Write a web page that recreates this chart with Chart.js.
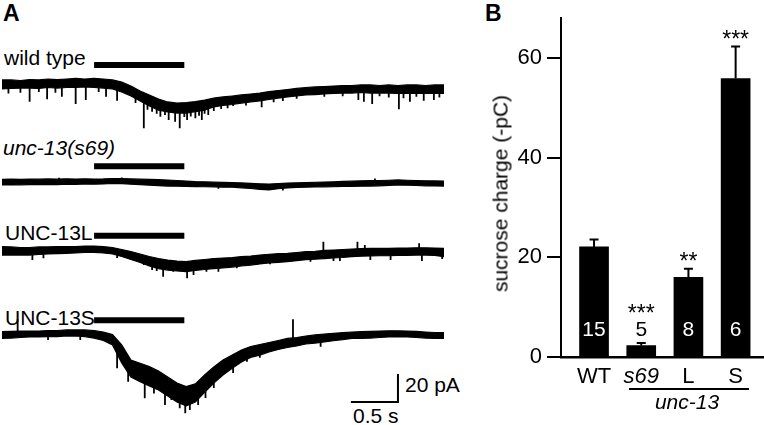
<!DOCTYPE html>
<html>
<head>
<meta charset="utf-8">
<script src="https://cdn.jsdelivr.net/npm/chart.js@4.4.1/dist/chart.umd.min.js"></script>
<style>
  body { margin: 0; background: #fff; }
  #fig { position: relative; width: 764px; height: 425px; overflow: hidden;
         font-family: 'Liberation Sans', Arial, sans-serif; color: #000; }
  #fig canvas { position: absolute; }
  .lbl { position: absolute; font-size: 21px; line-height: 21px; white-space: nowrap; }
  .panel { position: absolute; font-size: 23px; line-height: 23px; font-weight: bold; }
  .it { font-style: italic; }
</style>
</head>
<body>
<div id="fig">
  <div class="panel" style="left:3px;top:2px">A</div>
  <div class="panel" style="left:485px;top:2px">B</div>

  <div class="lbl" style="left:4px;top:47px">wild type</div>
  <div class="lbl it" style="left:3px;top:137px">unc-13(s69)</div>
  <div class="lbl" style="left:5px;top:222px">UNC-13L</div>
  <div class="lbl" style="left:5px;top:307px">UNC-13S</div>
  <div class="lbl" style="left:405px;top:374px">20 pA</div>
  <div class="lbl" style="left:353px;top:405px">0.5 s</div>

  <canvas id="trWT" width="442" height="120" style="left:2px;top:49px"></canvas>
  <canvas id="trS69" width="442" height="120" style="left:2px;top:147px"></canvas>
  <canvas id="trL" width="442" height="120" style="left:2px;top:216px"></canvas>
  <canvas id="trS" width="442" height="120" style="left:2px;top:299px"></canvas>

  <canvas id="bars" width="284" height="425" style="left:480px;top:0px"></canvas>
  <div class="lbl" style="left:390px;top:183px;width:220px;text-align:center;transform:rotate(-90deg)">sucrose charge (-pC)</div>
  <div style="position:absolute;left:629px;top:388px;width:120px;height:2px;background:#000"></div>
  <div class="lbl it" style="left:627px;top:391px;width:120px;text-align:center">unc-13</div>
</div>

<script>
// ---- panel A: sucrose-evoked currents (pA), sampled every 0.1 s ----
const times = [0, 0.1, 0.2, 0.3, 0.4, 0.5, 0.6, 0.7, 0.8, 0.9,
               1.0, 1.1, 1.2, 1.3, 1.4, 1.5, 1.6, 1.7, 1.8, 1.9,
               2.0, 2.1, 2.2, 2.3, 2.4, 2.5, 2.6, 2.7, 2.8, 2.9,
               3.0, 3.1, 3.2, 3.3, 3.4, 3.5, 3.6, 3.7, 3.8, 3.9,
               4.0, 4.1, 4.2, 4.3, 4.4, 4.5, 4.6, 4.7, 4.8];

// upper / lower edge of the noisy trace
const wtHi = [3.0, 3.0, 2.6, 3.3, 3.0, 3.7, 3.3, 3.7, 4.1, 3.7,
              4.1, 3.7, 3.0, 1.5, -1.5, -5.2, -8.1, -11.1, -13.3, -14.1,
              -13.7, -13.0, -11.9, -10.4, -9.6, -8.9, -8.1, -7.4, -6.7, -5.6,
              -4.8, -4.1, -3.3, -2.6, -2.2, -1.9, -1.5, -1.1, -1.1, -0.7,
              -0.7, -1.1, -0.7, -1.1, -0.7, -0.7, -1.1, -0.7, -0.7];
const wtLo = [-3.7, -3.3, -3.0, -3.0, -3.3, -2.6, -3.0, -2.6, -2.6, -2.2,
              -2.6, -3.0, -3.7, -5.9, -8.9, -12.6, -16.3, -19.3, -20.7, -21.5,
              -21.5, -20.4, -19.3, -17.0, -15.9, -15.2, -14.1, -13.3, -12.6, -11.5,
              -10.4, -9.6, -8.9, -8.1, -7.8, -7.4, -7.0, -6.7, -6.7, -6.3,
              -6.7, -6.7, -6.7, -7.0, -6.7, -7.0, -7.0, -6.7, -7.0];

const s69Hi = [2.0, 2.1, 2.0, 2.2, 2.1, 2.3, 2.2, 2.4, 2.2, 2.4,
               2.2, 2.3, 2.6, 2.6, 2.3, 2.1, 1.9, 1.7, 1.5, 1.1,
               0.7, 0.3, 0.1, -0.1, -0.3, -0.5, -0.7, -1.0, -1.3, -1.5,
               -1.1, -0.8, -0.6, -0.4, -0.2, 0.0, 0.2, 0.4, 0.6, 0.9,
               1.0, 1.1, 1.3, 1.5, 1.3, 1.1, 0.9, 0.8, 0.7];
const s69Lo = [-2.2, -2.0, -2.1, -1.9, -2.0, -1.8, -1.9, -1.6, -1.8, -1.5,
               -1.6, -1.4, -1.1, -1.2, -1.6, -2.0, -2.4, -2.7, -3.0, -3.1,
               -3.3, -3.4, -3.5, -3.6, -3.8, -3.9, -4.3, -4.8, -5.4, -5.9,
               -5.0, -4.4, -4.0, -3.8, -3.7, -3.6, -3.5, -3.3, -3.2, -3.1,
               -3.0, -2.8, -2.5, -2.2, -2.4, -2.6, -2.8, -2.9, -3.0];

const lHi = [3.2, 3.0, 2.6, 2.6, 3.0, 3.0, 3.3, 3.2, 3.3, 3.7,
             3.7, 3.3, 2.6, 1.1, -0.4, -2.2, -4.1, -5.6, -6.7, -7.4,
             -7.9, -7.0, -6.3, -5.6, -5.2, -4.8, -4.1, -3.7, -3.0, -2.4,
             -2.0, -1.7, -1.1, -0.5, -0.2, 0.4, 0.7, 1.1, 1.5, 1.7,
             1.9, 2.0, 2.0, 2.2, 2.2, 2.4, 2.4, 2.2, 2.0];
const lLo = [-3.0, -3.0, -3.0, -3.0, -2.6, -2.2, -1.9, -1.7, -1.5, -1.1,
             -1.0, -1.5, -2.2, -4.1, -6.3, -8.5, -11.1, -13.0, -14.1, -14.8,
             -15.3, -14.4, -13.7, -13.0, -12.6, -11.9, -11.1, -10.4, -9.6, -8.9,
             -8.4, -7.9, -7.2, -6.4, -6.1, -5.6, -5.2, -4.8, -4.2, -3.9,
             -3.7, -3.5, -3.5, -3.3, -3.2, -3.0, -3.0, -3.3, -4.2];

const sHi = [1.7, 1.9, 2.2, 2.2, 2.2, 2.6, 2.6, 3.0, 3.0, 3.0,
             2.6, 1.5, -0.4, -8.1, -19.3, -21.7, -24.1, -27.4, -31.9, -36.3,
             -38.9, -37.0, -30.4, -24.4, -19.3, -15.6, -11.9, -9.4, -7.8, -6.3,
             -4.8, -3.3, -2.6, -1.5, -0.7, 0.0, 0.5, 1.0, 1.5, 1.7,
             1.9, 2.2, 2.4, 2.4, 2.2, 1.9, 1.5, 1.1, 1.0];
const sLo = [-3.2, -3.0, -2.6, -2.2, -2.2, -1.9, -1.9, -1.5, -1.5, -1.9,
             -3.0, -4.8, -8.1, -21.5, -31.9, -35.3, -38.5, -41.5, -45.9, -50.4,
             -53.3, -50.4, -43.3, -36.3, -30.4, -25.4, -20.7, -17.3, -15.6, -13.3,
             -11.5, -10.0, -8.9, -7.4, -6.7, -5.9, -5.0, -4.1, -3.3, -3.2,
             -3.0, -2.6, -2.2, -2.0, -2.2, -2.6, -3.0, -3.2, -3.2];

// single events: [time s, start pA, tip pA]
const wtSpikes = [[0.07, -3, -7], [0.20, -3, -6.5], [0.30, -2.5, -13.1], [0.40, -3, -6],
  [0.49, -2.2, -11.3], [0.58, -2.5, -6.5], [0.65, -2.4, -9.4], [0.80, -2.2, -14.8],
  [0.91, -2.0, -11.9], [1.05, -2.5, -6], [1.13, -2.5, -9.4], [1.25, -3.5, -12.4],
  [1.45, -9, -14], [1.54, -13, -32.8], [1.58, -14, -19], [1.63, -15, -20.5],
  [1.68, -17, -22], [1.72, -18, -24.2], [1.77, -19, -23], [1.81, -19, -26.7],
  [1.88, -20, -27.9], [1.93, -20, -32.8], [1.98, -21, -24.5], [2.01, -20, -26.7],
  [2.05, -20, -24], [2.10, -19, -25.4], [2.14, -19.5, -23.5], [2.17, -18, -26.7],
  [2.20, -18.5, -22], [2.24, -17, -23.0], [2.30, -16, -20], [2.38, -15, -18.5],
  [2.45, -14.5, -18], [2.51, -14, -16.3], [2.65, -13, -16], [2.82, -12, -17.3],
  [2.95, -11, -13.5], [3.05, -10, -12.5], [3.20, -8.5, -11], [3.50, -7, -9.5],
  [3.70, -6.5, -9], [3.87, -6, -11.9], [3.93, -6, -13.1], [4.02, -6, -14.8],
  [4.10, -6.5, -9], [4.20, -6.5, -10], [4.31, -6.5, -18.7], [4.36, -6.5, -10.5],
  [4.43, -6.5, -13.1], [4.50, -6.8, -9.5], [4.58, -6.5, -12.4], [4.69, -6.3, -11.9],
  [4.75, -6.5, -10]];
const s69Spikes = [[0.62, 1.5, 3.2], [1.30, 2, 3.4], [2.35, -3, -5], [3.05, -4.5, -6.3], [4.05, 0.8, 2.6]];
const lSpikes = [[0.33, -2.5, -6.7], [0.45, -2, -5.4], [1.25, -2.5, -5.2], [1.54, -8, -10.4],
  [1.63, -10.5, -14.1], [1.68, -12, -14.8], [1.75, -13, -19.0], [1.86, -14, -15.3],
  [2.01, -14.5, -20.2], [2.08, -14, -17.8], [2.22, -13, -15.3], [2.35, -12.5, -15.3],
  [2.55, -11, -12.8], [2.77, -9.5, -10.4], [2.91, -8.5, -9.9], [3.35, -6, -7.9],
  [3.49, 0, 6.9], [3.60, -5, -7.4], [3.67, -4.8, -7.4], [3.86, 1.3, 6.9],
  [3.94, 1.5, 4.4], [4.00, -3.5, -6.7], [4.22, -3.3, -6.7], [4.53, 2, 5.7],
  [4.56, -3, -7.4], [4.78, -3.5, -5.9]];
const sSpikes = [[0.17, 1.5, 10.9], [0.50, -1.5, -4.5], [0.85, -1.5, -4.5], [1.25, -10, -25.4],
  [1.37, -25, -35.3], [1.55, -30, -47.6], [1.65, -33, -44], [1.77, -38, -52.6],
  [1.84, -40, -48.9], [1.93, -45, -55.0], [1.99, -48, -58.7], [2.04, -48, -56.3],
  [2.13, -45, -52.6], [2.21, -40, -47.4], [2.30, -33, -40], [2.51, -22, -28.9],
  [2.66, -16, -20.5], [2.80, -14, -17.5], [3.16, -3, 10.9], [3.46, -5, -9.4]];

// sucrose application (s) and scale bar (0.5 s, 20 pA)
const sucroseOn = 1.0, sucroseOff = 1.98;
const scaleT = [3.80, 4.30, 4.30];
const scaleI = [-50.4, -50.4, -30.4];

// ---- panel B: sucrose charge ----
const groups = ['WT', 's69', 'L', 'S'];
const charge = [22.1, 2.3, 16.0, 55.9];
const chargeErr = [1.5, 0.5, 1.7, 6.4];
const nCells = ['15', '5', '8', '6'];
const stars = ['', '***', '**', '***'];
const yTicks = [0, 20, 40, 60];

const FONT = "'Liberation Sans', Arial, sans-serif";
Chart.defaults.font.family = FONT;
Chart.defaults.color = '#000';

const TRACE_H = 120, BASE_OFF = 35, PX_PER_PA = 1.35;

function pts(xs, ys) {
    return xs.map((x, i) => ({ x: x, y: ys[i] }));
}

function spikePts(list) {
    const out = [];
    list.forEach(([t, a, b]) => {
        out.push({ x: t, y: a }, { x: t, y: b }, { x: t, y: null });
    });
    return out;
}

function drawTrace(id, hi, lo, spikes, barLevel, extra) {
    const line = { borderColor: '#000', pointRadius: 0, fill: false, tension: 0 };
    const datasets = [
        { ...line, data: pts(times, hi), borderWidth: 1.2 },
        { ...line, data: pts(times, lo), borderWidth: 1.2, fill: '-1', backgroundColor: '#000' },
        { ...line, data: spikePts(spikes), borderWidth: 1.8, spanGaps: false },
        { ...line, data: [{ x: sucroseOn, y: barLevel }, { x: sucroseOff, y: barLevel }],
          borderWidth: 6, borderCapStyle: 'butt' }
    ].concat(extra || []);

    new Chart(document.getElementById(id), {
        type: 'line',
        data: { datasets: datasets },
        options: {
            responsive: false,
            animation: false,
            events: [],
            layout: { padding: 0 },
            plugins: { legend: { display: false }, tooltip: { enabled: false } },
            scales: {
                x: { type: 'linear', display: false, min: 0, max: 4.8 },
                y: { display: false, min: -(TRACE_H - BASE_OFF) / PX_PER_PA, max: BASE_OFF / PX_PER_PA }
            }
        }
    });
}

drawTrace('trWT', wtHi, wtLo, wtSpikes, 14.1);
drawTrace('trS69', s69Hi, s69Lo, s69Spikes, 11.6);
drawTrace('trL', lHi, lLo, lSpikes, 11.3);
drawTrace('trS', sHi, sLo, sSpikes, 10.1, [{
    data: pts(scaleT, scaleI), borderColor: '#000', borderWidth: 2,
    pointRadius: 0, fill: false, tension: 0, borderCapStyle: 'square'
}]);

// error bars, n numbers and significance stars
const barLabels = {
    id: 'barLabels',
    afterDatasetsDraw(chart) {
        const { ctx, scales: { x, y } } = chart;
        const nY = y.getPixelForValue(0) - 27;
        ctx.save();
        ctx.strokeStyle = '#000';
        ctx.lineWidth = 2;
        ctx.textAlign = 'center';
        groups.forEach((g, i) => {
            const cx = x.getPixelForValue(i);
            const barTop = y.getPixelForValue(charge[i]);
            const errTop = y.getPixelForValue(charge[i] + chargeErr[i]);
            ctx.beginPath();
            ctx.moveTo(cx, barTop);
            ctx.lineTo(cx, errTop);
            ctx.moveTo(cx - 4.5, errTop);
            ctx.lineTo(cx + 4.5, errTop);
            ctx.stroke();

            const inside = barTop < nY - 12;
            ctx.font = '21px ' + FONT;
            ctx.textBaseline = 'middle';
            ctx.fillStyle = inside ? '#fff' : '#000';
            ctx.fillText(nCells[i], cx, nY);

            if (stars[i]) {
                const sy = inside ? errTop - 13 : nY - 22;
                ctx.font = '23px ' + FONT;
                ctx.textBaseline = 'alphabetic';
                ctx.fillStyle = '#000';
                ctx.fillText(stars[i], cx, sy + 13);
            }
        });
        ctx.restore();
    }
};

new Chart(document.getElementById('bars'), {
    type: 'bar',
    data: {
        datasets: [{
            data: groups.map((g, i) => ({ x: i, y: charge[i] })),
            backgroundColor: '#000',
            borderWidth: 0,
            barThickness: 29
        }]
    },
    options: {
        responsive: false,
        animation: false,
        events: [],
        layout: { padding: { top: 2, right: 1, left: 0, bottom: 0 } },
        plugins: { legend: { display: false }, tooltip: { enabled: false } },
        scales: {
            x: {
                type: 'linear', min: -0.7, max: 3.58, offset: false,
                grid: { display: false, drawTicks: false, offset: false },
                border: { display: true, color: '#000', width: 2.5 },
                afterBuildTicks: s => { s.ticks = groups.map((g, i) => ({ value: i })); },
                afterFit: s => { s.height = 68; },
                ticks: {
                    callback: v => groups[v],
                    padding: 7, maxRotation: 0, autoSkip: false, color: '#000',
                    font: ctx => ({ size: 22, family: FONT, style: ctx.index === 1 ? 'italic' : 'normal' })
                }
            },
            y: {
                min: 0, max: 68,
                afterBuildTicks: s => { s.ticks = yTicks.map(v => ({ value: v })); },
                afterFit: s => { s.width = 81; },
                grid: { drawOnChartArea: false, drawTicks: true, tickLength: 14, color: '#000', lineWidth: 2 },
                border: { display: true, color: '#000', width: 2 },
                ticks: { padding: 5, color: '#000', font: { size: 22 } }
            }
        }
    },
    plugins: [barLabels]
});
</script>
</body>
</html>
